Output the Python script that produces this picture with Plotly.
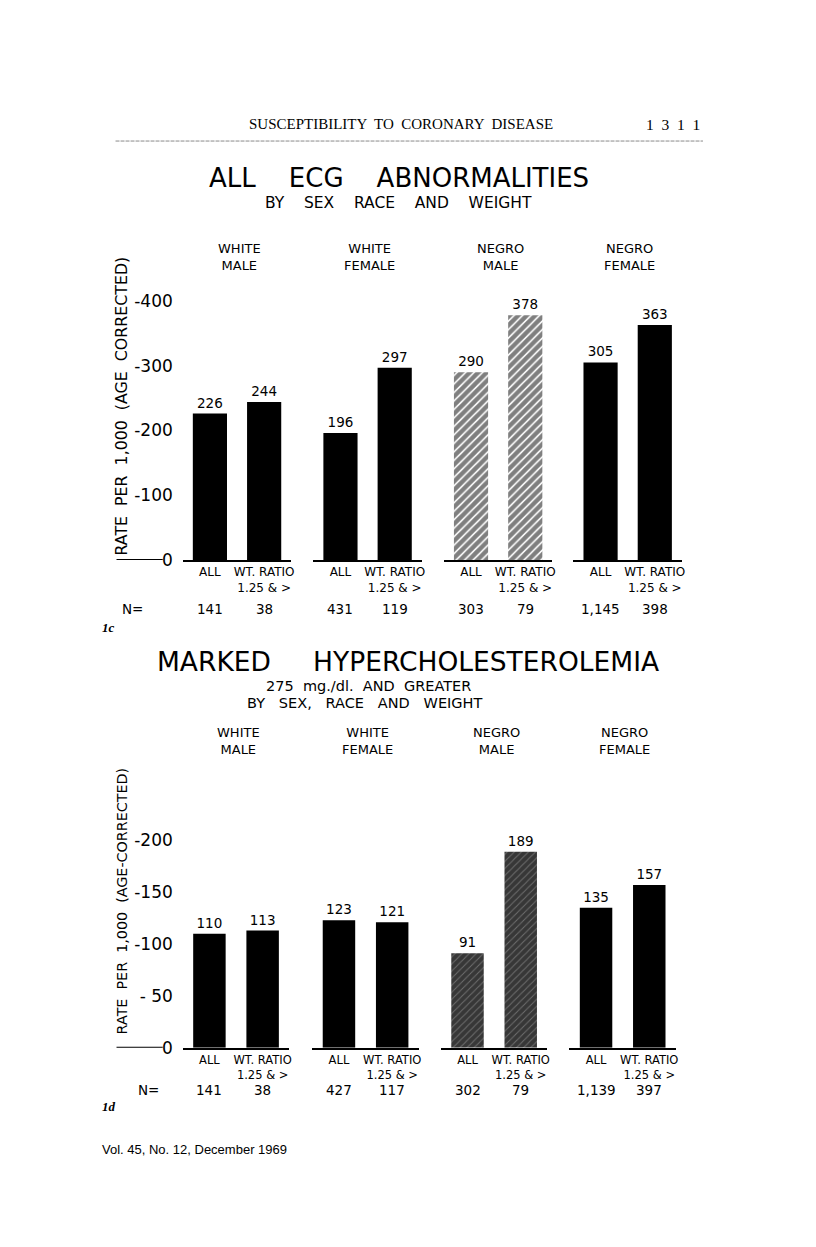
import plotly.graph_objects as go

# ---------------- data ----------------
group_names = ["WHITE<br>MALE", "WHITE<br>FEMALE", "NEGRO<br>MALE", "NEGRO<br>FEMALE"]
bar_cats = ["ALL", "WT. RATIO<br>1.25 & >"]
hatched = [False, False, True, False]

ecg_all = [226, 196, 290, 305]
ecg_wt = [244, 297, 378, 363]
ecg_n_all = ["141", "431", "303", "1,145"]
ecg_n_wt = ["38", "119", "79", "398"]
ecg_tickvals = [0, 100, 200, 300, 400]
ecg_ticktext = ["0", "-100", "-200", "-300", "-400"]

chol_all = [110, 123, 91, 135]
chol_wt = [113, 121, 189, 157]
chol_n_all = ["141", "427", "302", "1,139"]
chol_n_wt = ["38", "117", "79", "397"]
chol_tickvals = [0, 50, 100, 150, 200]
chol_ticktext = ["0", "- 50", "-100", "-150", "-200"]

# ---------------- layout helpers ----------------
OFF = 8          # page body margin
K = 0.992        # observed page-to-screenshot scale
W, H = 790, 1215
def px(x):
    return (x / K - OFF) / W
def py(y):
    return 1 - (y / K - OFF) / H

LETTER = "DejaVu Sans"
SERIF = "Liberation Serif"

fig = go.Figure()
layout = dict(
    width=W, height=H, margin=dict(l=0, r=0, t=0, b=0),
    paper_bgcolor="white", plot_bgcolor="white", showlegend=False,
    font=dict(family=LETTER, color="black"),
)
annotations = []
shapes = []

def ann(text, x, y, size, family=LETTER, xanchor="center", **kw):
    d = dict(text=text, xref="paper", x=px(x), yref="paper", y=py(y),
             xanchor=xanchor, yanchor="middle", showarrow=False,
             font=dict(size=size, family=family, color="black"))
    d.update(kw)
    return d

charts = [
    dict(all=ecg_all, wt=ecg_wt, n_all=ecg_n_all, n_wt=ecg_n_wt,
         tv=ecg_tickvals, tt=ecg_ticktext, yr=[0, 420],
         ydom=[py(560), py(288)], lefts=[182, 312, 442, 571], D=108,
         bw=0.63, nrow=609, head=257, xtick=12,
         pattern=dict(shape="/", fgcolor="black", bgcolor="white", size=6, solidity=0.74),
         nlabel_x=132),
    dict(all=chol_all, wt=chol_wt, n_all=chol_n_all, n_wt=chol_n_wt,
         tv=chol_tickvals, tt=chol_ticktext, yr=[0, 210],
         ydom=[py(1048), py(830)], lefts=[182, 311, 439, 567], D=106,
         bw=0.61, nrow=1090, head=741, xtick=11.5,
         pattern=dict(shape="/", fgcolor="black", bgcolor="#6e6e6e", size=5, solidity=0.8),
         nlabel_x=148),
]

k = 0
for ci, c in enumerate(charts):
    for g in range(4):
        k += 1
        xa = "x" if k == 1 else f"x{k}"
        ya = "y" if k == 1 else f"y{k}"
        xkey = "xaxis" if k == 1 else f"xaxis{k}"
        ykey = "yaxis" if k == 1 else f"yaxis{k}"
        vals = [c["all"][g], c["wt"][g]]
        if hatched[g]:
            marker = dict(color="black", line=dict(width=0), pattern=c["pattern"])
        else:
            marker = dict(color="black", line=dict(width=0))
        fig.add_trace(go.Bar(
            x=bar_cats, y=vals, xaxis=xa, yaxis=ya, width=c["bw"],
            marker=marker, text=[str(v) for v in vals], textposition="outside",
            textfont=dict(size=13.5, family=LETTER, color="black"),
            cliponaxis=False, hoverinfo="skip",
        ))
        layout[xkey] = dict(
            domain=[px(c["lefts"][g]), px(c["lefts"][g] + c["D"])],
            anchor=ya, range=[-0.5, 1.5], type="category",
            showline=True, linecolor="black", linewidth=2,
            showgrid=False, zeroline=False, ticks="",
            tickfont=dict(size=c["xtick"], family=LETTER, color="black"),
            fixedrange=True,
        )
        ydict = dict(domain=c["ydom"], anchor=xa, range=c["yr"],
                     showgrid=False, zeroline=False, showline=False, ticks="",
                     fixedrange=True)
        if g == 0:
            ydict.update(tickvals=c["tv"], ticktext=c["tt"], showticklabels=True,
                         tickfont=dict(size=17, family=LETTER, color="black"),
                         ticklabelstandoff=9)
        else:
            ydict.update(showticklabels=False)
        layout[ykey] = ydict

        # group header
        annotations.append(dict(text=group_names[g], xref=f"{xa} domain", x=0.52,
                                xanchor="center", yref="paper", y=py(c["head"]),
                                yanchor="middle", showarrow=False, align="center",
                                font=dict(size=13, family=LETTER, color="black")))
        # N values
        for cat, nv in zip(bar_cats, [c["n_all"][g], c["n_wt"][g]]):
            annotations.append(dict(text=nv, xref=xa, x=cat, xanchor="center",
                                    yref="paper", y=py(c["nrow"]), yanchor="middle",
                                    showarrow=False,
                                    font=dict(size=13.5, family=LETTER, color="black")))
    # N= label
    annotations.append(ann("N=", c["nlabel_x"], c["nrow"], 13.5))
    # short baseline stub left of "0"
    yref0 = "y" if ci == 0 else "y5"
    shapes.append(dict(type="line", xref="paper", x0=px(116), x1=px(162),
                       yref=yref0, y0=0, y1=0, line=dict(color="black", width=2)))

# y axis titles
annotations.append(ann("RATE  PER  1,000  (AGE  CORRECTED)", 121, 406, 15.8, textangle=-90))
annotations.append(ann("RATE  PER  1,000  (AGE-CORRECTED)", 121, 902, 14.3, textangle=-90))

# titles
annotations += [
    ann("ALL    ECG    ABNORMALITIES", 397, 178, 26),
    ann("BY    SEX    RACE    AND    WEIGHT", 397, 203, 15.5),
    ann("MARKED     HYPERCHOLESTEROLEMIA", 406, 662, 26.5),
    ann("275  mg./dl.  AND  GREATER", 367, 686, 14.5),
    ann("BY   SEX,   RACE   AND   WEIGHT", 363, 703, 14.5),
    # page header
    ann("SUSCEPTIBILITY  TO  CORONARY  DISEASE", 399, 124, 15, family=SERIF),
    ann("1  3  1  1", 670, 124, 15.5, family=SERIF),
    # figure labels
    ann("<b><i>1c</i></b>", 100, 628, 13, family=SERIF, xanchor="left"),
    ann("<b><i>1d</i></b>", 100, 1107, 13, family=SERIF, xanchor="left"),
    # footer
    ann("Vol. 45, No. 12, December 1969", 100, 1150, 13, family="Liberation Sans", xanchor="left"),
]

# header rule
shapes.append(dict(type="line", xref="paper", yref="paper", x0=px(115), x1=px(700),
                   y0=py(141), y1=py(141),
                   line=dict(color="#8a8a8a", width=1, dash="4px,1px")))

layout["annotations"] = annotations
layout["shapes"] = shapes
fig.update_layout(**layout)
fig.write_html("out.html")
